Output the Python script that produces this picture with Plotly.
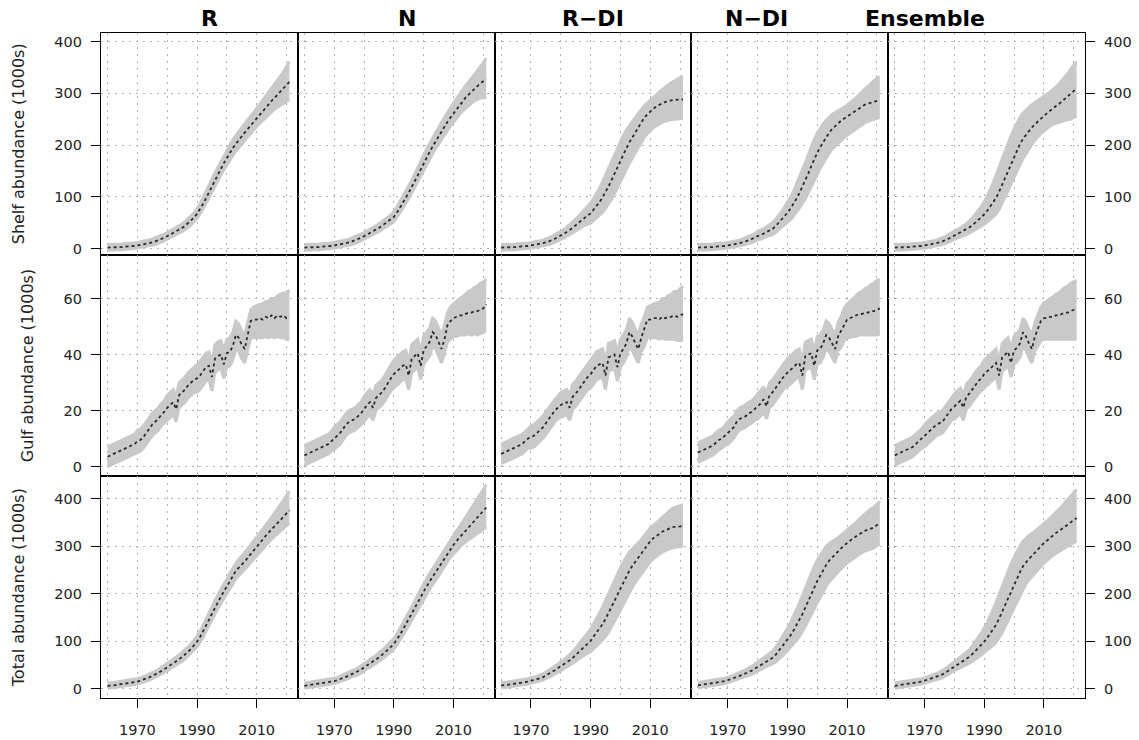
import plotly.graph_objects as go
from plotly.subplots import make_subplots

# years on the x axis
years = [1960, 1961, 1962, 1963, 1964, 1965, 1966, 1967, 1968, 1969,
         1970, 1971, 1972, 1973, 1974, 1975, 1976, 1977, 1978, 1979,
         1980, 1981, 1982, 1983, 1984, 1985, 1986, 1987, 1988, 1989,
         1990, 1991, 1992, 1993, 1994, 1995, 1996, 1997, 1998, 1999,
         2000, 2001, 2002, 2003, 2004, 2005, 2006, 2007, 2008, 2009,
         2010, 2011, 2012, 2013, 2014, 2015, 2016, 2017, 2018, 2019,
         2020, 2021]

model_names = ["R", "N", "R\u2212DI", "N\u2212DI", "Ensemble"]
row_titles = ["Shelf abundance (1000s)", "Gulf abundance (1000s)", "Total abundance (1000s)"]

# ---- Shelf abundance (1000s) ----
shelf_r_mid = [2,2,2,3,3,3,4,4,5,5, 6,7,8,9,10,12,14,16,18,21, 24,27,30,33,36,40,44,49,54,60,
               67,76,86,97,109,121,132,143,154,165, 175,185,194,202,210,217,224,231,238,245,
               252,259,265,272,279,285,291,297,303,309, 315,322]
shelf_r_lo = [-3,-3,-3,-2,-2,-2,-1,-1,0,0, 1,2,3,4,5,7,8,10,12,15, 18,21,24,26,29,33,37,41,46,52,
              58,67,76,87,98,110,120,131,142,152, 162,172,180,188,196,202,209,216,222,229,
              235,242,247,253,259,264,269,273,277,281, 284,288]
shelf_r_hi = [8,8,8,9,9,9,10,10,11,11, 12,13,14,15,16,18,21,23,25,28, 31,34,37,41,44,48,52,58,63,69,
              77,86,98,109,122,134,146,157,168,180, 190,200,210,218,226,234,241,248,256,263,
              272,279,286,294,302,309,316,325,333,341, 351,361]

shelf_n_mid = [2,2,2,3,3,3,4,4,5,5, 6,7,8,9,10,12,14,16,18,21, 24,27,30,33,36,40,44,48,52,56,
               61,69,78,88,98,108,118,130,141,153, 165,177,187,197,207,217,227,236,245,253,
               261,269,277,284,291,297,303,309,314,319, 323,327]
shelf_n_lo = [-3,-3,-3,-2,-2,-2,-1,-1,0,0, 1,2,3,4,5,7,8,10,12,15, 18,21,24,26,29,33,37,40,44,48,
              52,60,68,78,87,97,106,118,129,140, 152,164,173,183,193,202,212,221,229,237,
              244,252,259,265,271,276,281,285,288,291, 291,292]
shelf_n_hi = [8,8,8,9,9,9,10,10,11,11, 12,13,14,15,16,18,21,23,25,28, 31,34,37,41,44,48,52,57,61,65,
              71,79,90,100,111,121,132,144,155,168, 180,192,203,213,223,234,244,253,263,271,
              281,289,298,306,314,321,328,337,344,351, 359,368]

shelf_rdi_mid = [2,2,2,3,3,3,4,4,5,5, 6,7,8,9,10,12,14,16,19,22, 25,28,32,36,40,45,50,55,60,64,
                 68,75,82,90,99,109,120,132,145,157, 170,182,194,205,215,225,235,244,253,259,
                 265,270,274,278,281,283,285,286,287,287, 288,288]
shelf_rdi_lo = [-3,-3,-3,-2,-2,-2,-1,-1,0,0, 1,2,3,4,5,6,8,10,12,15, 18,20,24,27,30,34,38,42,45,47,
                49,54,59,64,70,77,85,95,106,117, 129,141,153,165,175,186,196,206,215,222,
                228,233,237,241,244,246,248,249,250,250, 251,251]
shelf_rdi_hi = [8,8,8,9,9,9,10,10,11,11, 12,13,14,15,16,19,21,23,27,30, 33,37,41,46,51,57,63,69,76,82,
                88,97,106,117,129,142,155,169,183,195, 208,219,229,238,245,253,261,268,276,281,
                287,292,297,302,307,311,316,320,324,327, 330,332]

shelf_ndi_mid = [2,2,2,3,3,3,4,4,5,5, 6,7,8,9,10,12,14,16,18,21, 24,26,29,32,35,38,43,49,55,62,
                 69,77,86,96,107,119,131,145,159,173, 185,196,206,215,224,231,237,242,247,251,
                 255,259,263,267,271,275,278,280,282,284, 286,287]
shelf_ndi_lo = [-3,-3,-3,-2,-2,-2,-1,-1,0,0, 1,2,3,4,5,6,8,10,11,14, 17,18,21,23,25,27,31,36,40,45,
                50,56,63,70,78,87,96,108,120,133, 144,155,165,175,184,192,198,204,209,214,
                219,223,227,232,236,240,243,246,248,250, 252,253]
shelf_ndi_hi = [8,8,8,9,9,9,10,10,11,11, 12,13,14,15,16,19,21,23,26,29, 32,35,38,42,46,50,56,63,71,80,
                89,99,110,123,137,152,166,182,197,211, 223,233,241,248,254,259,263,266,270,273,
                277,281,286,291,297,303,309,314,319,324, 329,332]

shelf_ens_mid = [2,2,2,3,3,3,4,4,5,5, 6,7,8,9,10,12,14,16,19,22, 25,28,31,34,37,41,45,50,55,60,
                 66,73,81,89,98,110,123,137,151,165, 178,191,202,212,220,228,234,240,246,251,
                 256,261,266,271,275,279,284,288,293,298, 304,309]
shelf_ens_lo = [-3,-3,-3,-2,-2,-2,-1,-1,0,0, 1,2,3,4,5,6,8,10,12,15, 18,20,23,25,27,30,33,37,40,43,
                47,51,56,61,67,76,87,99,112,125, 138,151,163,174,183,193,201,209,216,222,
                227,232,236,240,242,244,246,247,249,250, 253,256]
shelf_ens_hi = [8,8,8,9,9,9,10,10,11,11, 12,13,14,15,16,19,21,23,27,30, 33,37,40,44,48,53,59,66,73,81,
                90,101,114,127,141,157,173,189,204,218, 231,243,253,262,268,274,278,282,286,289,
                293,297,302,307,312,317,324,330,338,346, 354,361]

# ---- Gulf abundance (1000s) ----
gulf_r_mid = [3.5,4,4.5,5,5.5,6,6.5,7,7.5,8, 9,9.5,10.5,12,13.5,15,16,17,18.5,19.5,
              21,22,23,20.5,25.5,26.5,27.5,29,30,31, 31.5,32.5,34,35.5,36,32,38.5,39.5,40,36.5,
              40.5,41,43,47,46,43.5,42,46.5,52,52.5, 52.5,53,52.5,53.5,53,54,53,54,53.5,54, 53,53.5]
gulf_r_lo = [0,0.5,1,1.5,2,2.5,3,3.5,4,4.5, 5,5.5,6.5,8,9.5,11,12,13,14.5,15.5,
             16.5,17.5,18.5,16,21,22,23,24.5,25.5,26.5, 26.5,27.5,29,30.5,31,27,33.5,34.5,35,31.5,
             35.5,36,38,42,41,38.5,37,41.5,46,46, 46,46,46,46.5,46,46.5,46,46.5,46,46, 45.5,45.5]
gulf_r_hi = [7,7.5,8,8.5,9,9.5,10,10.5,11,11.5, 13,13.5,14.5,16,17.5,19,20,21,22.5,23.5,
             25.5,26.5,27.5,25,30,31,32,33.5,34.5,35.5, 36.5,37.5,39,40.5,41,37,43.5,44.5,45,41.5,
             45.5,46,48,52,51,48.5,47,51.5,56,57, 57.5,58,58,59,59,60,60,61,61.5,62, 62,63]

gulf_n_mid = [4,4.5,5,5.5,6,6.5,7,7.5,8,9, 10,11,12,13.5,15,16,16.5,17,18,19,
              20.5,22,23,21,24.5,25.5,26.5,28,30,31.5, 33,34,35,36,36.5,32.5,38.5,39.5,40.5,36,
              41.5,43,44.5,48,47,44.5,42,45.5,50.5,52, 53,53.5,54,54,54.5,55,55,55.5,55.5,56, 56.5,58]
gulf_n_lo = [0.5,1,1.5,2,2.5,3,3.5,4,4.5,5.5, 6,7,8,9.5,11,12,12.5,13,14,15,
             16,17.5,18.5,16.5,20,21,22,23.5,25.5,27, 28,29,30,31,31.5,27.5,33.5,34.5,35.5,31,
             36.5,38,39.5,43,42,39.5,37,40.5,44.5,45.5, 46.5,46.5,47,47,47,47.5,47,47.5,47,47.5, 48,48.5]
gulf_n_hi = [7.5,8,8.5,9,9.5,10,10.5,11,11.5,12.5, 14,15,16,17.5,19,20,20.5,21,22,23,
             25,26.5,27.5,25.5,29,30,31,32.5,34.5,36, 38,39,40,41,41.5,37.5,43.5,44.5,45.5,41,
             46.5,48,49.5,53,52,49.5,47,50.5,55,57, 58,59,60,60.5,61.5,62.5,63,64,64.5,65.5, 66,67]

gulf_rdi_mid = [4.5,5,5.5,6,6.5,7,7.5,8,9,10, 10.5,11,12,13,14,15.5,17,18.5,20,21,
                22,22.5,23,21,25,26,27.5,29,30.5,32, 33,34.5,36,36.5,37,32.5,39,39.5,40,35.5,
                40.5,42,44,48,46.5,44,42,46,49,52.5, 52.5,53,53,52.5,53.5,53,53.5,53.5,54,53.5, 54,54.5]
gulf_rdi_lo = [1,1.5,2,2.5,3,3.5,4,4.5,5.5,6.5, 6.5,7,8,9,10,11.5,13,14.5,16,17,
               17.5,18,18.5,16.5,20.5,21.5,23,24.5,26,27.5, 28,29.5,31,31.5,32,27.5,34,34.5,35,30.5,
               35.5,37,39,43,41.5,39,37,41,43,46, 46,46,46,45.5,46,45.5,45.5,45.5,45.5,45, 45,45]
gulf_rdi_hi = [8,8.5,9,9.5,10,10.5,11,11.5,12.5,13.5, 14.5,15,16,17,18,19.5,21,22.5,24,25,
               26.5,27,27.5,25.5,29.5,30.5,32,33.5,35,36.5, 38,39.5,41,41.5,42,37.5,44,44.5,45,40.5,
               45.5,47,49,53,51.5,49,47,51,53.5,57, 57.5,58,58.5,58.5,60,60,61,61.5,62.5,62.5, 63.5,64.5]

gulf_ndi_mid = [5,5.5,6,6.5,7,7.5,8.5,9.5,10,11, 12,13,14,16,17,17.5,18,19,19.5,20.5,
                21.5,22.5,24,21.5,25.5,26.5,28,29.5,31,32.5, 33.5,34.5,35.5,36.5,37,32.5,39.5,40,40.5,36,
                41.5,42,44,47,46,44,42,46.5,48.5,51, 52.5,53,53.5,54,54.5,54.5,55,55,55.5,55.5, 56,56.5]
gulf_ndi_lo = [1.5,2,2.5,3,3.5,4,5,6,6.5,7.5, 8,9,10,12,13,13.5,14,15,15.5,16.5,
               17,18,19.5,17,21,22,23.5,25,26.5,28, 28.5,29.5,30.5,31.5,32,27.5,34.5,35,35.5,31,
               36.5,37,39,42,41,39,37,41.5,42.5,45, 46,46,46.5,46.5,47,47,47,47,47,47, 47,47.5]
gulf_ndi_hi = [8.5,9,9.5,10,10.5,11,12,13,13.5,14.5, 16,17,18,20,21,21.5,22,23,23.5,24.5,
               26,27,28.5,26,30,31,32.5,34,35.5,37, 38.5,39.5,40.5,41.5,42,37.5,44.5,45,45.5,41,
               46.5,47,49,52,51,49,47,51.5,53.5,56.5, 58,59,60,61,62,62.5,63.5,64,65,65.5, 66.5,67]

gulf_ens_mid = [4,4.5,5,5.5,6,6.5,7,8,9,10, 11,12,13,14,15,15.5,16,17.5,19,20.5,
                21.5,22.5,23.5,21,25,26,27.5,29,30.5,31.5, 33,34,35,36,37,32.5,39,40,41,37,
                41.5,42.5,44,48,46.5,44,42,46.5,49.5,52, 53,53,53.5,53.5,54,54,54.5,55,55,55.5, 56,56.5]
gulf_ens_lo = [0.5,1,1.5,2,2.5,3,3.5,4.5,5.5,6.5, 7,8,9,10,11,11.5,12,13.5,15,16.5,
               17,18,19,16.5,20.5,21.5,23,24.5,26,27, 28,29,30,31,32,27.5,34,35,36,32,
               36.5,37.5,39,43,41.5,39,37,41.5,43,45, 45.5,45.5,45.5,45.5,45.5,45.5,45.5,45.5,45.5,45.5, 45.5,45.5]
gulf_ens_hi = [7.5,8,8.5,9,9.5,10,10.5,11.5,12.5,13.5, 15,16,17,18,19,19.5,20,21.5,23,24.5,
               26,27,28,25.5,29.5,30.5,32,33.5,35,36, 38,39,40,41,42,37.5,44,45,46,42,
               46.5,47.5,49,53,51.5,49,47,51.5,54.5,57, 58.5,59,60,60.5,61.5,62,63,64,64.5,65.5, 66,66.5]

# ---- Total abundance (1000s) ----
total_r_mid = [6,6,7,8,9,9,11,11,13,13, 15,17,19,21,24,27,30,33,37,41, 45,49,53,58,62,67,72,78,84,91,
               99,109,120,133,145,158,171,183,194,205, 216,226,237,248,255,261,268,276,284,291,
               300,308,315,322,329,336,343,350,356,363, 369,376]
total_r_lo = [1,1,2,3,4,4,6,6,8,8, 10,12,14,15,18,21,24,27,30,34, 38,42,45,50,54,58,63,69,74,81,
              88,98,108,121,132,145,157,169,179,190, 201,210,221,232,238,244,251,258,266,273,
              281,289,295,302,308,315,321,327,332,338, 343,349]
total_r_hi = [12,12,13,14,15,15,17,17,19,19, 21,23,25,28,31,34,37,40,45,49, 53,57,62,67,71,77,82,88,95,102,
              111,121,133,146,159,172,186,198,210,221, 232,243,254,265,273,279,286,295,303,311,
              320,329,337,345,353,361,370,379,387,397, 406,416]

total_n_mid = [6,7,7,9,9,10,11,12,13,14, 16,18,20,23,25,28,31,33,36,40, 45,49,53,57,61,66,71,76,82,88,
               94,103,113,124,135,146,157,169,181,193, 205,216,226,236,245,255,265,275,285,295,
               303,311,318,326,333,340,347,354,361,368, 375,382]
total_n_lo = [1,2,2,4,4,5,6,7,8,9, 11,13,15,17,19,22,25,27,29,33, 38,42,45,49,53,57,62,67,72,78,
              83,92,101,112,122,133,143,155,166,178, 190,200,210,220,228,238,248,257,267,277,
              284,291,297,304,309,314,319,323,327,331, 336,341]
total_n_hi = [12,13,13,15,15,16,17,18,19,20, 22,24,26,30,32,35,38,40,44,48, 53,57,62,66,70,76,81,86,93,99,
              106,115,126,137,149,160,172,184,197,209, 221,233,243,253,263,273,283,294,304,315,
              324,333,341,351,360,369,379,389,399,409, 420,430]

total_rdi_mid = [7,7,8,9,10,10,12,12,14,15, 17,18,20,22,24,28,31,35,39,43, 47,51,55,60,65,71,78,84,91,96,
                 101,110,118,127,136,147,159,172,185,198, 211,224,237,249,259,268,277,285,295,304,
                 311,317,322,327,331,334,337,339,341,341, 342,343]
total_rdi_lo = [2,2,3,4,5,5,7,7,9,10, 12,13,15,16,18,22,24,28,31,35, 38,42,45,49,53,58,63,67,72,75,
                78,85,90,96,102,110,119,130,141,153, 165,178,191,204,214,224,233,242,252,261,
                268,274,279,284,288,291,294,296,298,298, 299,300]
total_rdi_hi = [13,13,14,15,16,16,18,18,20,21, 23,24,26,29,31,35,39,43,48,52, 57,61,66,72,78,85,94,102,111,118,
                125,137,148,160,172,186,200,215,229,242, 255,267,278,288,295,301,308,314,323,331,
                338,344,350,356,362,367,373,378,382,384, 386,388]

total_ndi_mid = [7,8,8,10,10,11,13,14,15,16, 18,20,22,25,27,30,32,35,38,42, 46,49,53,57,61,65,71,79,86,95,
                 103,112,122,133,144,157,171,185,200,214, 227,238,250,261,270,277,283,289,296,302,
                 308,312,317,321,326,330,333,335,338,340, 345,348]
total_ndi_lo = [2,3,3,5,5,6,8,9,10,11, 13,15,17,19,21,24,25,28,30,34, 37,40,43,46,49,52,56,62,67,74,
                80,87,94,102,110,120,131,143,156,169, 181,192,204,216,225,233,239,246,253,259,
                265,269,274,278,283,287,290,292,295,297, 302,304]
total_ndi_hi = [13,14,14,16,16,17,19,20,21,22, 24,26,28,32,34,37,40,43,47,51, 56,59,64,69,74,79,87,97,106,117,
                127,139,152,166,180,196,212,228,244,258, 271,281,291,300,306,310,314,318,324,329,
                335,339,345,350,357,363,369,374,379,383, 390,395]

total_ens_mid = [6,7,7,9,9,10,11,12,14,15, 17,19,21,23,25,28,30,34,38,43, 47,51,55,58,62,67,73,79,86,92,
                 99,107,116,125,135,148,162,177,192,206, 220,234,246,258,267,274,280,287,294,301,
                 307,312,318,323,328,332,337,342,346,351, 356,360]
total_ens_lo = [1,2,2,4,4,5,6,7,9,10, 12,14,16,17,19,22,23,27,30,35, 38,42,45,47,50,54,58,62,67,71,
                76,81,87,92,98,107,118,131,144,157, 171,185,198,211,221,229,236,244,252,259,
                265,270,276,281,285,289,293,297,300,304, 308,311]
total_ens_hi = [12,13,13,15,15,16,17,18,20,21, 23,25,27,30,32,35,38,42,47,52, 57,61,66,70,75,82,90,98,108,117,
                127,139,153,167,182,199,216,233,249,263, 277,290,301,311,318,323,327,332,337,343,
                348,353,359,365,371,377,384,392,399,407, 414,420]

y_ticks = [[0, 100, 200, 300, 400], [0, 20, 40, 60], [0, 100, 200, 300, 400]]
y_ranges = [[-11.7, 416.3], [-3.5, 75.7], [-19.6, 447.7]]
x_range = [1957.8, 2023.8]

panels = [
    [(shelf_r_lo, shelf_r_mid, shelf_r_hi), (shelf_n_lo, shelf_n_mid, shelf_n_hi),
     (shelf_rdi_lo, shelf_rdi_mid, shelf_rdi_hi), (shelf_ndi_lo, shelf_ndi_mid, shelf_ndi_hi),
     (shelf_ens_lo, shelf_ens_mid, shelf_ens_hi)],
    [(gulf_r_lo, gulf_r_mid, gulf_r_hi), (gulf_n_lo, gulf_n_mid, gulf_n_hi),
     (gulf_rdi_lo, gulf_rdi_mid, gulf_rdi_hi), (gulf_ndi_lo, gulf_ndi_mid, gulf_ndi_hi),
     (gulf_ens_lo, gulf_ens_mid, gulf_ens_hi)],
    [(total_r_lo, total_r_mid, total_r_hi), (total_n_lo, total_n_mid, total_n_hi),
     (total_rdi_lo, total_rdi_mid, total_rdi_hi), (total_ndi_lo, total_ndi_mid, total_ndi_hi),
     (total_ens_lo, total_ens_mid, total_ens_hi)],
]

band_col = "#c9c9c9"
line_col = "#2a2a2a"
grid_col = "#b0b0b0"
font_name = "DejaVu Sans"

fig = make_subplots(rows=3, cols=5, horizontal_spacing=0, vertical_spacing=0)

for r in range(3):
    for c in range(5):
        lo, mid, hi = panels[r][c]
        # grey credible band, then the dashed median on top
        fig.add_trace(go.Scatter(x=years, y=lo, mode="lines",
                                 line=dict(color=band_col, width=3),
                                 showlegend=False, hoverinfo="skip"),
                      row=r + 1, col=c + 1)
        fig.add_trace(go.Scatter(x=years, y=hi, mode="lines", fill="tonexty", fillcolor=band_col,
                                 line=dict(color=band_col, width=3),
                                 showlegend=False, hoverinfo="skip"),
                      row=r + 1, col=c + 1)
        fig.add_trace(go.Scatter(x=years, y=mid, mode="lines",
                                 line=dict(color=line_col, width=1.8, dash="3px,3px"),
                                 showlegend=False),
                      row=r + 1, col=c + 1)

        fig.update_xaxes(range=x_range, tickvals=[1970, 1990, 2010],
                         showticklabels=(r == 2), ticks="outside" if r == 2 else "",
                         ticklen=9, tickwidth=1, tickcolor="black", ticklabelstandoff=9,
                         showline=True, linecolor="black", linewidth=1.2, mirror=True,
                         zeroline=False, showgrid=True, gridcolor=grid_col, griddash="2px,5px",
                         minor=dict(tickvals=[1960, 1980, 2000, 2020], showgrid=True,
                                    gridcolor=grid_col, griddash="2px,5px", ticks=""),
                         tickfont=dict(family=font_name, size=14.5, color="#222"),
                         row=r + 1, col=c + 1)

        edge = c in (0, 4)
        fig.update_yaxes(range=y_ranges[r], tickvals=y_ticks[r],
                         showticklabels=edge, ticks="outside" if edge else "",
                         side="right" if c == 4 else "left",
                         ticklen=9, tickwidth=1, tickcolor="black", ticklabelstandoff=6,
                         showline=True, linecolor="black", linewidth=1.2, mirror=True,
                         zeroline=False, showgrid=True, gridcolor=grid_col, griddash="2px,5px",
                         tickfont=dict(family=font_name, size=14.5, color="#222"),
                         row=r + 1, col=c + 1)
        if c == 0:
            fig.update_yaxes(title=dict(text=row_titles[r], standoff=25,
                                        font=dict(family=font_name, size=16, color="#222")),
                             row=r + 1, col=c + 1)

for c, name in enumerate(model_names):
    fig.add_annotation(text="<b>" + name + "</b>", x=(c + 0.5) / 5, y=1, xref="paper", yref="paper",
                       yanchor="bottom", yshift=0, showarrow=False,
                       font=dict(family=font_name, size=22, color="black"))

fig.update_layout(width=1139, height=740,
                  margin=dict(l=101, r=54, t=33, b=42, autoexpand=False),
                  plot_bgcolor="white", paper_bgcolor="white",
                  font=dict(family=font_name, color="#222"))

# drop the browser's default 8px body margin so the figure fills the window
fig.write_html("out.html", config={"displayModeBar": False},
               post_script="document.body.style.margin='0px';")
